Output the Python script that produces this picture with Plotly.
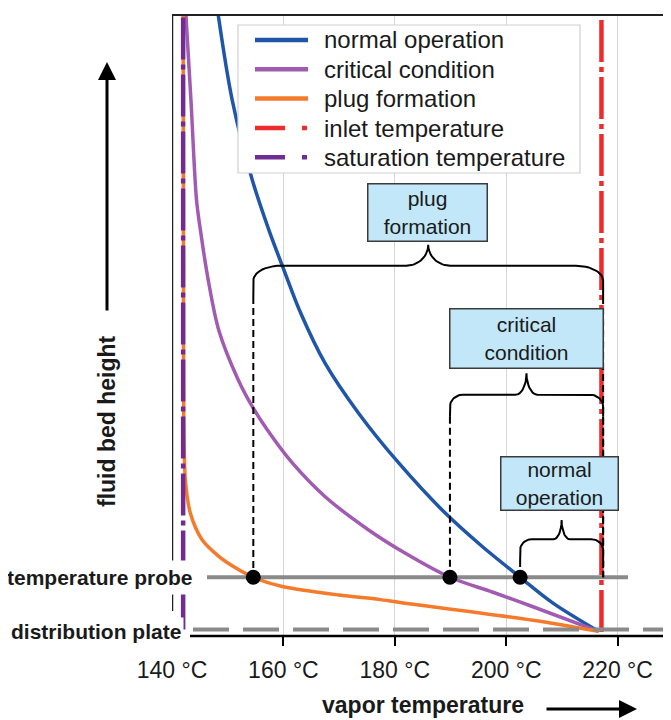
import numpy as np
import plotly.graph_objects as go

# ---------------- data ----------------
normal_temp = [148.3, 150.8, 154.4, 157.4, 160.1, 163.1, 167.5, 173.5, 180.7, 189.1, 195.7, 202.5, 208.4, 216.6]
normal_height = [100, 86.2, 73.2, 65.0, 58.5, 51.5, 43.3, 35.2, 27.1, 18.9, 13.5, 8.5, 4.3, -0.3]

critical_temp = [142.5, 143.4, 144.4, 145.1, 146.5, 148.4, 151.9, 154.4, 157.1, 161.6, 167.5, 175.3, 181.9,
                 189.9, 197.5, 204.8, 216.6]
critical_height = [100, 86.2, 69.9, 65.0, 56.9, 48.7, 40.6, 36.3, 32.5, 27.1, 21.6, 16.2, 12.4,
                   8.5, 6.1, 3.7, -0.3]

plug_temp = [142.0, 142.05, 142.1, 142.4, 143.3, 145.4, 148.4, 151.1, 154.6, 159.8, 170.0, 177.1, 180.9, 204.8, 216.6]
plug_height = [100, 60, 35, 24.3, 18.9, 14.6, 11.9, 10.2, 8.5, 7.0, 5.6, 4.9, 4.4, 1.5, -0.3]

inlet_temp = 217.1
saturation_temp = 142.0
probe_height = 8.5
plate_height = 0.0

series_names = ["normal operation", "critical condition", "plug formation",
                "inlet temperature", "saturation temperature"]
scenario_box_text = ["normal<br>operation", "critical<br>condition", "plug<br>formation"]
probe_temp = [202.5, 189.9, 154.6]

tick_vals = [140, 160, 180, 200, 220]
tick_text = ["140 °C", "160 °C", "180 °C", "200 °C", "220 °C"]

# ---------------- layout constants ----------------
OFF = 8                      # page body margin of the html page
W, H = 671 - OFF, 720 - OFF
ML, MR, MT, MB = 172 - OFF, 0, 15 - OFF, 84
PW, PH = W - ML - MR, H - MT - MB
XR = [140, 140 + PW / 5.57]
YR = [-1.06, 100]
DEG_PX = PW / (XR[1] - XR[0])
H_PX = PH / (YR[1] - YR[0])

FONT = "Liberation Sans, Arial, sans-serif"
TXT = "#1a1a1a"
C_NORMAL = "#1f56a8"
C_CRIT = "#a15bb1"
C_PLUG = "#f57a2b"
C_INLET = "#ee2c2c"
C_SAT = "#702c92"
C_GRAY = "#8a8a8a"
DASHDOT = "42px,5px,5px,5px"
series_colors = [C_NORMAL, C_CRIT, C_PLUG, C_INLET, C_SAT]
series_dash = ["solid", "solid", "solid", "30px,17px,5px,17px", "30px,17px,5px,17px"]


def px_x(p):
    """reference-picture pixel x -> paper coordinate"""
    return (p - OFF - ML) / PW


def px_y(p):
    """reference-picture pixel y -> paper coordinate"""
    return (H - MB - (p - OFF)) / PH


fig = go.Figure()

fig.add_trace(go.Scatter(x=normal_temp, y=normal_height, mode="lines", name=series_names[0],
                         line=dict(color=C_NORMAL, width=3.5, shape="spline", smoothing=0.9)))
fig.add_trace(go.Scatter(x=critical_temp, y=critical_height, mode="lines", name=series_names[1],
                         line=dict(color=C_CRIT, width=3.5, shape="spline", smoothing=0.9)))
fig.add_trace(go.Scatter(x=plug_temp, y=plug_height, mode="lines", name=series_names[2],
                         line=dict(color=C_PLUG, width=3.5, shape="spline", smoothing=0.8)))
fig.add_trace(go.Scatter(x=[inlet_temp, inlet_temp], y=[-0.4, YR[1]], mode="lines", name=series_names[3],
                         line=dict(color=C_INLET, width=4.5, dash=DASHDOT)))
fig.add_trace(go.Scatter(x=[saturation_temp, saturation_temp], y=[plate_height, YR[1]], mode="lines",
                         name=series_names[4], line=dict(color=C_SAT, width=4.5, dash=DASHDOT)))

# probe line and distribution plate
fig.add_trace(go.Scatter(x=[140 + 35 / DEG_PX, 140 + 456 / DEG_PX], y=[probe_height, probe_height],
                         mode="lines", line=dict(color=C_GRAY, width=4), showlegend=False, hoverinfo="skip"))
fig.add_trace(go.Scatter(x=[140 + 21 / DEG_PX, XR[1]], y=[plate_height, plate_height],
                         mode="lines", line=dict(color=C_GRAY, width=4, dash="36px,14px"),
                         showlegend=False, hoverinfo="skip"))

# braces: (base height, tip height, end height, corner rx px, corner ry px, cusp half-width px)
brace_geom = [
    (14.7, 17.8, 11.3, 12, 11, 8),
    (38.2, 41.7, 34.6, 13, 12, 11),
    (59.2, 62.6, 54.1, 27, 15, 22),
]
brace_right = inlet_temp + 0.3


def brace(tl, tr, hb, ht, he, rxp, ryp, cwp):
    rx, ry, cw = rxp / DEG_PX, ryp / H_PX, cwp / DEG_PX
    t = np.linspace(0, np.pi / 2, 14)
    tc = (tl + tr) / 2
    xs = [tl, tl] + list(tl + rx - rx * np.cos(t)) + list(tc - cw + cw * np.sin(t))
    ys = [he, hb - ry] + list(hb - ry + ry * np.sin(t)) + list(ht - (ht - hb) * np.cos(t))
    xs = np.array(xs)
    ys = np.array(ys)
    return np.concatenate([xs, 2 * tc - xs[::-1]]), np.concatenate([ys, ys[::-1]])


for i, tp in enumerate(probe_temp):
    hb, ht, he, rxp, ryp, cwp = brace_geom[i]
    bx, by = brace(tp, brace_right, hb, ht, he, rxp, ryp, cwp)
    fig.add_trace(go.Scatter(x=bx, y=by, mode="lines", line=dict(color="black", width=2),
                             showlegend=False, hoverinfo="skip"))
    for xx in (tp, brace_right):
        fig.add_trace(go.Scatter(x=[xx, xx], y=[he, probe_height], mode="lines",
                                 line=dict(color="black", width=2, dash="7px,4px"),
                                 showlegend=False, hoverinfo="skip"))

fig.add_trace(go.Scatter(x=probe_temp, y=[probe_height] * 3, mode="markers",
                         marker=dict(color="black", size=15), showlegend=False, hoverinfo="skip"))

# boxes: (center temp, center height, width, height)
box_geom = [(209.6, 23.7, 114, 50), (203.6, 47.3, 150, 56), (185.8, 67.8, 116, 54)]
for i, txt in enumerate(scenario_box_text):
    cx, cy, bw, bh = box_geom[i]
    fig.add_annotation(x=cx, y=cy, text=txt, showarrow=False, align="center",
                       font=dict(family=FONT, size=21, color=TXT),
                       bgcolor="#c2e7f8", bordercolor="#3a3a3a", borderwidth=1.5, borderpad=1,
                       width=bw, height=bh, xanchor="center", yanchor="middle")

# frame lines
fig.add_shape(type="line", xref="paper", yref="paper", x0=0, x1=1, y0=1, y1=1,
              line=dict(color="#222222", width=2))
fig.add_shape(type="line", xref="x", yref="paper", x0=140, x1=140, y0=(3.0 - YR[0]) / (YR[1] - YR[0]), y1=1,
              line=dict(color="#222222", width=2.5))
fig.add_shape(type="line", xref="x", yref="paper", x0=140 + 18 / DEG_PX, x1=XR[1], y0=0, y1=0,
              line=dict(color="black", width=2.5))

# legend (drawn by hand to match the compact reference legend)
leg_rows = [40, 69.3, 98.5, 128, 157.3]
fig.add_shape(type="rect", xref="paper", yref="paper", x0=px_x(238), x1=px_x(580), y0=px_y(173), y1=px_y(25),
              line=dict(color="#cfcfcf", width=1.2), fillcolor="white", layer="above")
for name, col, dsh, yy in zip(series_names, series_colors, series_dash, leg_rows):
    fig.add_shape(type="line", xref="paper", yref="paper", x0=px_x(255), x1=px_x(308), y0=px_y(yy), y1=px_y(yy),
                  line=dict(color=col, width=4.5, dash=dsh), layer="above")
    fig.add_annotation(xref="paper", yref="paper", x=px_x(322), y=px_y(yy), text=name, showarrow=False,
                       xanchor="left", yanchor="middle", font=dict(family=FONT, size=24, color=TXT))

# side labels
fig.add_annotation(xref="paper", yref="y", x=px_x(199), y=probe_height, text="<b>temperature probe</b>",
                   showarrow=False, xanchor="right", yanchor="middle", bgcolor="white", borderpad=5,
                   font=dict(family=FONT, size=21, color=TXT))
fig.add_annotation(xref="paper", yref="y", x=px_x(184), y=plate_height - 0.4, text="<b>distribution plate</b>",
                   showarrow=False, xanchor="right", yanchor="middle", bgcolor="white", borderpad=2,
                   font=dict(family=FONT, size=21, color=TXT))

# axis titles with arrows
fig.add_annotation(xref="paper", yref="paper", x=px_x(107), y=px_y(421), text="<b>fluid bed height</b>",
                   textangle=-90, showarrow=False, xanchor="center", yanchor="middle",
                   font=dict(family=FONT, size=23, color=TXT))
fig.add_annotation(xref="paper", yref="paper", x=px_x(107), y=px_y(62), text="", showarrow=True,
                   axref="pixel", ayref="pixel", ax=0, ay=250, arrowhead=2, arrowsize=1.2,
                   arrowwidth=3, arrowcolor="black")
fig.add_annotation(xref="paper", yref="paper", x=px_x(423), y=px_y(705), text="<b>vapor temperature</b>",
                   showarrow=False, xanchor="center", yanchor="middle",
                   font=dict(family=FONT, size=23, color=TXT))
fig.add_annotation(xref="paper", yref="paper", x=px_x(637), y=px_y(709), text="", showarrow=True,
                   axref="pixel", ayref="pixel", ax=-92, ay=0, arrowhead=2, arrowsize=1.2,
                   arrowwidth=3, arrowcolor="black")

fig.update_layout(
    width=W, height=H, autosize=False,
    margin=dict(l=ML, r=MR, t=MT, b=MB),
    paper_bgcolor="white", plot_bgcolor="white",
    font=dict(family=FONT, size=23, color=TXT),
    showlegend=False,
    xaxis=dict(range=XR, tickvals=tick_vals, ticktext=tick_text, ticks="", showgrid=True,
               gridcolor="#d6d6d6", gridwidth=1, zeroline=False, showline=False,
               ticklabelstandoff=18, tickfont=dict(family=FONT, size=23, color=TXT),
               minor=dict(tickvals=tick_vals[1:], ticks="outside", ticklen=9, tickwidth=2,
                          tickcolor="black", showgrid=False)),
    yaxis=dict(range=YR, showticklabels=False, ticks="", showgrid=False, zeroline=False, showline=False),
)

fig.write_html("out.html")
